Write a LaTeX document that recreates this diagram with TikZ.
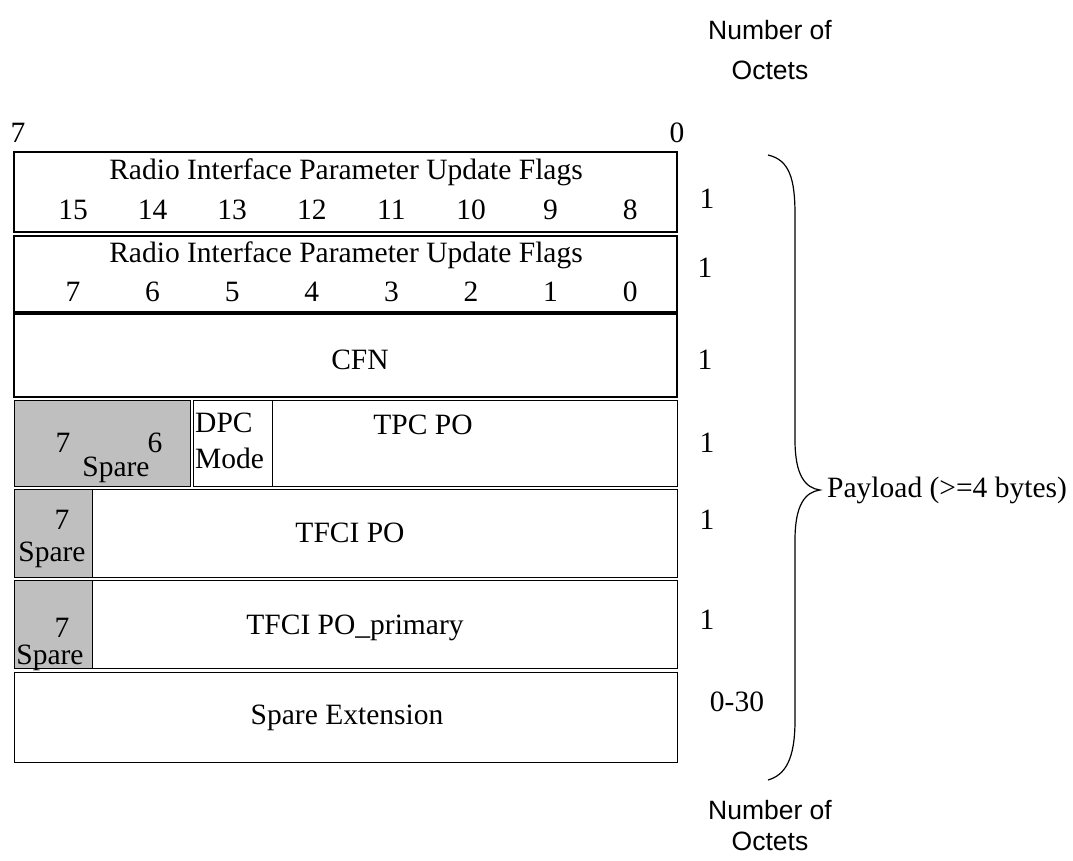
\documentclass[tikz,border=0pt]{standalone}
\usepackage{fontspec}
\setmainfont{Liberation Serif}
\newfontfamily\arialfont{Liberation Sans}
\begin{document}
\begin{tikzpicture}[x=1pt,y=-1pt,
  every node/.style={font=\fontsize{29.5}{34}\selectfont, inner sep=0pt},
  field/.style={draw, line width=#1, minimum width=0pt, minimum height=0pt},
  field/.default=1pt,
  spare/.style={draw, line width=1pt, fill=black!25},
  sans/.style={font=\arialfont\fontsize{26.5}{40}\selectfont, align=center},
  sanstight/.style={font=\arialfont\fontsize{26.5}{31}\selectfont, align=center}
]
\useasboundingbox (0,0) rectangle (1073,860);
% headers
\node[sans] (topoct) at (770,50) {Number of\\Octets};
\node[sanstight] (botoct) at (770,826) {Number of\\Octets};
\node (b7) at (18,133) {7};
\node (b0) at (677,133) {0};
% row 1
\node[field=1.6pt, minimum width=663pt, minimum height=80pt] (r1) at (345.5,192) {};
\node (r1t) at (346,172) {Radio Interface Parameter Update Flags};
\foreach \n [count=\i from 0] in {15,14,13,12,11,10,9,8}
  \node (r1n\i) at (73+79.6*\i,210) {\n};
% row 2
\node[field=1.6pt, minimum width=663pt, minimum height=76pt] (r2) at (345.5,274) {};
\node (r2t) at (346,255) {Radio Interface Parameter Update Flags};
\foreach \n [count=\i from 0] in {7,6,5,4,3,2,1,0}
  \node (r2n\i) at (73+79.6*\i,292) {\n};
% row 3
\node[field=1.6pt, minimum width=663pt, minimum height=83pt] (r3) at (345.5,355.5) {};
\node (cfn) at (360,360) {CFN};
% row 4
\node[spare, minimum width=176pt, minimum height=86pt] (r4s) at (102,443) {};
\node (r4s7) at (63,443) {7};
\node (r4s6) at (155,443) {6};
\node (r4sp) at (116,470) {Spare};
\node[field, minimum width=79pt, minimum height=86pt] (dpc) at (232.5,443) {};
\node[align=left, anchor=west, font=\fontsize{29.5}{36}\selectfont] (dpct) at (195,441) {DPC\\Mode};
\node[field, minimum width=405pt, minimum height=86pt] (tpc) at (474.5,443) {};
\node (tpct) at (423,425) {TPC PO};
% row 5
\node[spare, minimum width=78pt, minimum height=88pt] (r5s) at (53,533) {};
\node (r5s7) at (62,520) {7};
\node (r5sp) at (52,555) {Spare};
\node[field, minimum width=585pt, minimum height=88pt] (tfci) at (384.5,533) {};
\node (tfcit) at (350,533) {TFCI PO};
% row 6
\node[spare, minimum width=78pt, minimum height=88pt] (r6s) at (53,624) {};
\node (r6s7) at (62,628) {7};
\node (r6sp) at (50,658) {Spare};
\node[field, minimum width=585pt, minimum height=88pt] (tfcip) at (384.5,624) {};
\node (tfcipt) at (355,628) {TFCI PO\_primary};
% row 7
\node[field, minimum width=663pt, minimum height=90pt] (r7) at (345.5,717) {};
\node (spext) at (347,718) {Spare Extension};
% octet counts
\node (o1) at (707,199) {1};
\node (o2) at (705,268) {1};
\node (o3) at (705,360) {1};
\node (o4) at (707,443) {1};
\node (o5) at (707,520) {1};
\node (o6) at (707,620) {1};
\node (o7) at (737,702) {0-30};
% brace
\coordinate (bt) at (768,155);
\coordinate (bb) at (768,780);
\coordinate (tip) at (820,490);
\draw[line width=1.2pt] (bt) .. controls (790,160) and (795,180) .. (795,215) -- (795,440)
  .. controls (795,475) and (805,488) .. (tip)
  .. controls (805,492) and (795,505) .. (795,540) -- (795,720)
  .. controls (795,760) and (785,775) .. (bb);
\node[anchor=west] (pay) at (827,490) {Payload (>=4 bytes)};
\end{tikzpicture}
\end{document}
